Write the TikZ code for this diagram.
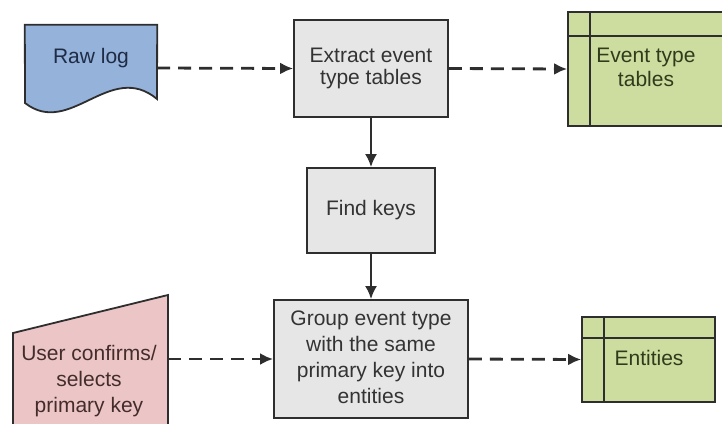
\documentclass[tikz,border=0pt]{standalone}
\usepackage{xcolor}
\usepackage{fontspec}
\usepackage{tikz}
\usetikzlibrary{arrows.meta}
\setmainfont{Liberation Sans}
\definecolor{logblue}{HTML}{95B2DA}
\definecolor{userpink}{HTML}{ECC6C6}
\definecolor{tblgreen}{HTML}{CDDC9F}
\definecolor{procgray}{HTML}{E6E6E6}
\definecolor{edgedark}{HTML}{2E2E2E}
\definecolor{txtgray}{HTML}{333333}
\definecolor{txtgreen}{HTML}{2F3C1C}
\definecolor{txtblue}{HTML}{1F2C46}
\definecolor{txtpink}{HTML}{442C2C}

\begin{document}
\begin{tikzpicture}[x=1pt, y=-1pt, >={Latex[length=13pt,width=12pt]},
    font=\fontsize{21}{25}\selectfont,
    proc/.style={draw=edgedark, fill=procgray, line width=1.8pt, text=txtgray,
      align=center, inner sep=0pt},
    tbl/.style={draw=edgedark, fill=tblgreen, line width=1.8pt, inner sep=0pt},
    frame/.style={inner sep=0pt},
    flow/.style={->, draw=edgedark, line width=2.2pt},
    dflow/.style={->, draw=edgedark, line width=2.8pt, dash pattern=on 13pt off 8pt}]
  \useasboundingbox (0,0) rectangle (722,423);

  % Process steps
  \node[proc, minimum width=154pt, minimum height=97pt] (extract) at (371,68.5)
    {Extract event\\[-3pt]type tables};
  \node[proc, minimum width=128pt, minimum height=85pt] (findkeys) at (371,210.5)
    {Find keys};
  \node[proc, minimum width=194pt, minimum height=118pt] (group) at (371,359)
    {\raisebox{6pt}{\begin{tabular}{@{}c@{}}Group event type\\[1pt]with the same\\[1pt]primary key into\\[1pt]entities\end{tabular}}};

  % Raw log document
  \node[frame, minimum width=132pt, minimum height=86pt] (rawlog) at (91,68) {};
  \draw[edgedark, fill=logblue, line width=1.8pt]
    (rawlog.north west) -- (rawlog.north east) -- (157,99)
    .. controls (110,60) and (70,138) .. (25,103) -- cycle;
  \node[text=txtblue] (rawlogtxt) at (91,58) {Raw log};

  % Manual input
  \node[frame, minimum width=155pt, minimum height=135pt] (user) at (90.5,362.5) {};
  \draw[edgedark, fill=userpink, line width=1.8pt]
    (13,333) -- (168,295) -- (168,432) -- (13,432) -- cycle;
  \node[text=txtpink, align=center] (usertxt) at (89,381)
    {User confirms/\\[1pt]selects\\[1pt]primary key};

  % Tables
  \node[tbl, minimum width=158pt, minimum height=114pt] (evtables) at (647,69) {};
  \draw[edgedark, line width=1.8pt]
    ([xshift=23pt]evtables.north west) -- ([xshift=23pt]evtables.south west)
    ([yshift=-25pt]evtables.north west) -- ([yshift=-25pt]evtables.north east);
  \node[text=txtgreen, align=center] (evtablestxt) at (646,67.5)
    {Event type\\[-1pt]tables};
  \node[tbl, minimum width=133pt, minimum height=85pt] (entities) at (648.5,359.5) {};
  \draw[edgedark, line width=1.8pt]
    ([xshift=23pt]entities.north west) -- ([xshift=23pt]entities.south west)
    ([yshift=-22pt]entities.north west) -- ([yshift=-22pt]entities.north east);
  \node[text=txtgreen] (entitiestxt) at (649,358) {Entities};

  % Arrows
  \draw[dflow] (rawlog.east) -- (extract.west);
  \draw[dflow] (extract.east) -- (evtables.west);
  \draw[flow] (extract.south) -- (findkeys.north);
  \draw[flow] (findkeys.south) -- (group.north);
  \draw[dflow] (user.east |- group.west) -- (group.west);
  \draw[dflow] (group.east) -- (entities.west);
\end{tikzpicture}
\end{document}
